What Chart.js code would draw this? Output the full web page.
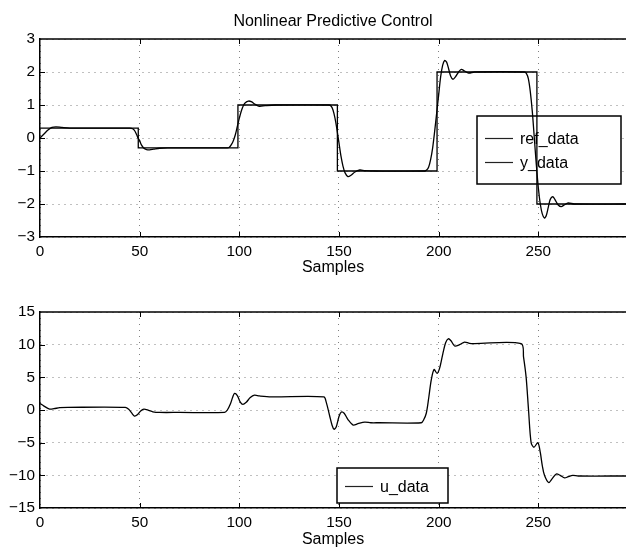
<!DOCTYPE html>
<html>
<head>
<meta charset="utf-8">
<script src="https://cdn.jsdelivr.net/npm/chart.js@4.4.1/dist/chart.umd.min.js"></script>
<style>
  body { margin: 0; background: #fff; }
  canvas { position: absolute; left: 0; }
  #top { top: 0; }
  #bottom { top: 280px; }
</style>
</head>
<body>
<canvas id="top" width="626" height="280"></canvas>
<canvas id="bottom" width="626" height="272"></canvas>
<script>
// tick labels
var xTicks = [0, 50, 100, 150, 200, 250];
var yTicksTop = [-3, -2, -1, 0, 1, 2, 3];
var yTicksBottom = [-15, -10, -5, 0, 5, 10, 15];

// reference signal (steps)
var refX = [0, 49.3, 49.3, 99.3, 99.3, 149.2, 149.2, 199.2, 199.2, 249.3, 249.3, 294];
var refY = [0.3, 0.3, -0.3, -0.3, 1, 1, -1, -1, 2, 2, -2, -2];

// plant output
var yX = [0, 2, 4, 6, 8, 11, 15, 30, 45, 46.5, 47.5, 48.5, 49.2, 50, 50.8, 52, 53.5, 55, 57, 60, 64,
  94, 95, 96, 97, 98, 99, 100, 101, 102, 103, 104.6, 106, 108, 110, 113, 118,
  145, 146, 147, 148, 149, 150, 151, 152, 153, 154.5, 156, 158, 160.4, 163, 168,
  193, 194, 195, 196, 197, 198, 199, 200, 201, 202, 203, 204, 205, 206, 207.2, 208.5, 210, 211.4, 213, 215, 218,
  243, 244, 245, 246, 247, 248, 249, 250, 251, 252, 253.1, 254, 255, 256, 257.3, 258.5, 260, 261.5, 263, 265, 268, 294];
var yY = [0, 0.12, 0.24, 0.32, 0.34, 0.32, 0.3, 0.3, 0.3, 0.28, 0.22, 0.1, 0, -0.08, -0.2, -0.3, -0.35, -0.36, -0.34, -0.31, -0.3,
  -0.3, -0.28, -0.2, -0.08, 0.1, 0.35, 0.6, 0.82, 0.98, 1.07, 1.12, 1.1, 1.02, 0.96, 0.98, 1.0,
  1.0, 0.97, 0.85, 0.6, 0.25, -0.15, -0.55, -0.85, -1.05, -1.17, -1.13, -1.03, -0.97, -0.99, -1.0,
  -1.0, -0.97, -0.88, -0.65, -0.3, 0.2, 0.75, 1.3, 1.85, 2.2, 2.35, 2.3, 2.1, 1.88, 1.78, 1.86, 2.0, 2.08, 2.03, 1.97, 2.0,
  2.0, 1.96, 1.8, 1.4, 0.8, 0.0, -0.8, -1.5, -2.0, -2.3, -2.43, -2.35, -2.1, -1.86, -1.78, -1.88, -2.03, -2.08, -2.03, -1.97, -2.0, -2.0];

// control signal
var uX = [0, 2, 4.8, 7, 9.9, 14, 42.8, 44.5, 46, 47.4, 49, 50.5, 52.1, 54.5, 56.6, 60, 70,
  92.6, 94, 95.5, 96.7, 97.6, 99, 100.5, 101.8, 103.5, 105.5, 107.6, 110, 116,
  142.4, 143.6, 145.4, 146.5, 147.5, 148.6, 150, 151.2, 152.6, 154.6, 157.1, 159.5, 162.9, 166, 170,
  191.3, 192.5, 193.8, 195, 196.3, 197.7, 199.2, 200.5, 202.1, 203.5, 204.8, 206.2, 208, 210.5, 213, 215.5, 218,
  241.4, 242.6, 243.9, 245.1, 246.4, 247.8, 249.8, 251, 252, 253.1, 255.2, 257, 259, 261, 263.2, 265, 267.3, 270, 294];
var uY = [1.0, 0.6, 0.14, 0.2, 0.35, 0.4, 0.4, 0.1, -0.45, -0.93, -0.7, -0.15, 0.14, -0.05, -0.27, -0.37, -0.37,
  -0.37, 0.0, 0.9, 2.0, 2.53, 2.2, 1.2, 0.85, 1.2, 1.9, 2.27, 2.15, 2.0,
  2.0, 1.2, -1.0, -2.3, -2.95, -2.6, -1.0, -0.3, -0.5, -1.5, -2.3, -2.1, -1.85, -1.95, -1.95,
  -1.95, -1.5, -0.5, 1.8, 4.6, 6.2, 5.6, 6.4, 8.6, 10.3, 10.9, 10.6, 9.8, 10.0, 10.4, 10.2, 10.17,
  10.17, 8.1, 5.0, 0.0, -5.0, -5.7, -5.0, -6.5, -8.5, -10.0, -11.1, -10.5, -9.8, -10.0, -10.4, -10.2, -10.0, -10.1, -10.1];

var xMax = 294;
var fam = "'Liberation Sans', Arial, Helvetica, sans-serif";

function pts(xs, ys) {
  return xs.map(function (x, i) { return { x: x, y: ys[i] }; });
}

function minus(v) {
  return String(v).replace('-', '\u2212');
}

// axes box: top edge and inward tick marks like the original figure
var boxPlugin = {
  id: 'boxTicks',
  afterDraw: function (chart) {
    var ctx = chart.ctx, a = chart.chartArea;
    var xs = chart.scales.x, ys = chart.scales.y;
    ctx.save();
    ctx.strokeStyle = '#000';
    ctx.lineWidth = 1.5;
    ctx.beginPath();
    ctx.moveTo(a.left, a.top);
    ctx.lineTo(a.right, a.top);
    ctx.stroke();
    ctx.lineWidth = 1;
    ctx.beginPath();
    xs.ticks.forEach(function (t) {
      var p = Math.round(xs.getPixelForValue(t.value)) + 0.5;
      if (t.value <= xs.min) return;
      ctx.moveTo(p, a.bottom); ctx.lineTo(p, a.bottom - 5);
      ctx.moveTo(p, a.top); ctx.lineTo(p, a.top + 5);
    });
    ys.ticks.forEach(function (t) {
      if (t.value <= ys.min || t.value >= ys.max) return;
      var p = Math.round(ys.getPixelForValue(t.value)) + 0.5;
      ctx.moveTo(a.left, p); ctx.lineTo(a.left + 5, p);
    });
    ctx.stroke();
    ctx.restore();
  }
};

// boxed legend drawn under the lines
var legendPlugin = {
  id: 'boxLegend',
  beforeDatasetsDraw: function (chart, args, o) {
    var ctx = chart.ctx;
    ctx.save();
    ctx.fillStyle = '#fff';
    ctx.fillRect(o.x, o.y, o.w, o.h);
    ctx.strokeStyle = '#000';
    ctx.lineWidth = 1.5;
    ctx.strokeRect(o.x, o.y, o.w, o.h);
    ctx.font = '16px ' + fam;
    ctx.textBaseline = 'middle';
    ctx.fillStyle = '#000';
    chart.data.datasets.forEach(function (ds, i) {
      var ry = o.rowY[i];
      ctx.strokeStyle = '#222';
      ctx.lineWidth = 1.2;
      ctx.beginPath();
      ctx.moveTo(o.lineX0, ry);
      ctx.lineTo(o.lineX1, ry);
      ctx.stroke();
      ctx.fillText(ds.label, o.textX, ry + 1);
    });
    ctx.restore();
  }
};

function makeOptions(yTicks, titleText, padTop, xHeight, titlePad, legend) {
  return {
    responsive: false,
    animation: false,
    devicePixelRatio: 1,
    layout: { padding: { top: padTop, right: 0, left: 0, bottom: 0 } },
    plugins: {
      legend: { display: false },
      tooltip: { enabled: false },
      title: {
        display: !!titleText,
        text: titleText,
        color: '#000',
        fullSize: false,
        font: { family: fam, size: 16, weight: 'normal' },
        padding: { top: 12, bottom: 7.8 }
      },
      boxLegend: legend
    },
    elements: { point: { radius: 0 } },
    scales: {
      x: {
        type: 'linear',
        min: 0,
        max: xMax,
        afterBuildTicks: function (s) { s.ticks = xTicks.map(function (v) { return { value: v }; }); },
        afterFit: function (s) { s.height = xHeight; },
        ticks: { color: '#000', padding: 6, maxRotation: 0, autoSkip: false,
          font: { family: fam, size: 15.3 }, callback: minus },
        grid: { color: '#808080', lineWidth: 1, drawTicks: false },
        border: { display: true, color: '#000', width: 1.5, dash: [1, 5] },
        title: { display: true, text: 'Samples', color: '#000',
          font: { family: fam, size: 16 }, padding: { top: 0, bottom: titlePad } }
      },
      y: {
        type: 'linear',
        min: yTicks[0],
        max: yTicks[yTicks.length - 1],
        afterBuildTicks: function (s) { s.ticks = yTicks.map(function (v) { return { value: v }; }); },
        afterFit: function (s) { s.width = 40; },
        ticks: { color: '#000', padding: 5, font: { family: fam, size: 15.3 }, callback: minus },
        grid: { color: '#808080', lineWidth: 1, drawTicks: false },
        border: { display: true, color: '#000', width: 1.5, dash: [1, 5] }
      }
    }
  };
}

new Chart(document.getElementById('top').getContext('2d'), {
  type: 'line',
  data: {
    datasets: [
      { label: 'ref_data', data: pts(refX, refY), borderColor: '#000', borderWidth: 1.3, tension: 0 },
      { label: 'y_data', data: pts(yX, yY), borderColor: '#000', borderWidth: 1.3, tension: 0.3 }
    ]
  },
  options: makeOptions(yTicksTop, 'Nonlinear Predictive Control', 0, 43, 3,
    { x: 477, y: 116, w: 144, h: 68, lineX0: 485, lineX1: 513, textX: 520, rowY: [138.5, 162.5] }),
  plugins: [legendPlugin, boxPlugin]
});

new Chart(document.getElementById('bottom').getContext('2d'), {
  type: 'line',
  data: {
    datasets: [
      { label: 'u_data', data: pts(uX, uY), borderColor: '#000', borderWidth: 1.3, tension: 0.3 }
    ]
  },
  options: makeOptions(yTicksBottom, '', 32, 44, 2.7,
    { x: 337, y: 188, w: 111, h: 35, lineX0: 345, lineX1: 373, textX: 380, rowY: [206.5] }),
  plugins: [legendPlugin, boxPlugin]
});
</script>
</body>
</html>
